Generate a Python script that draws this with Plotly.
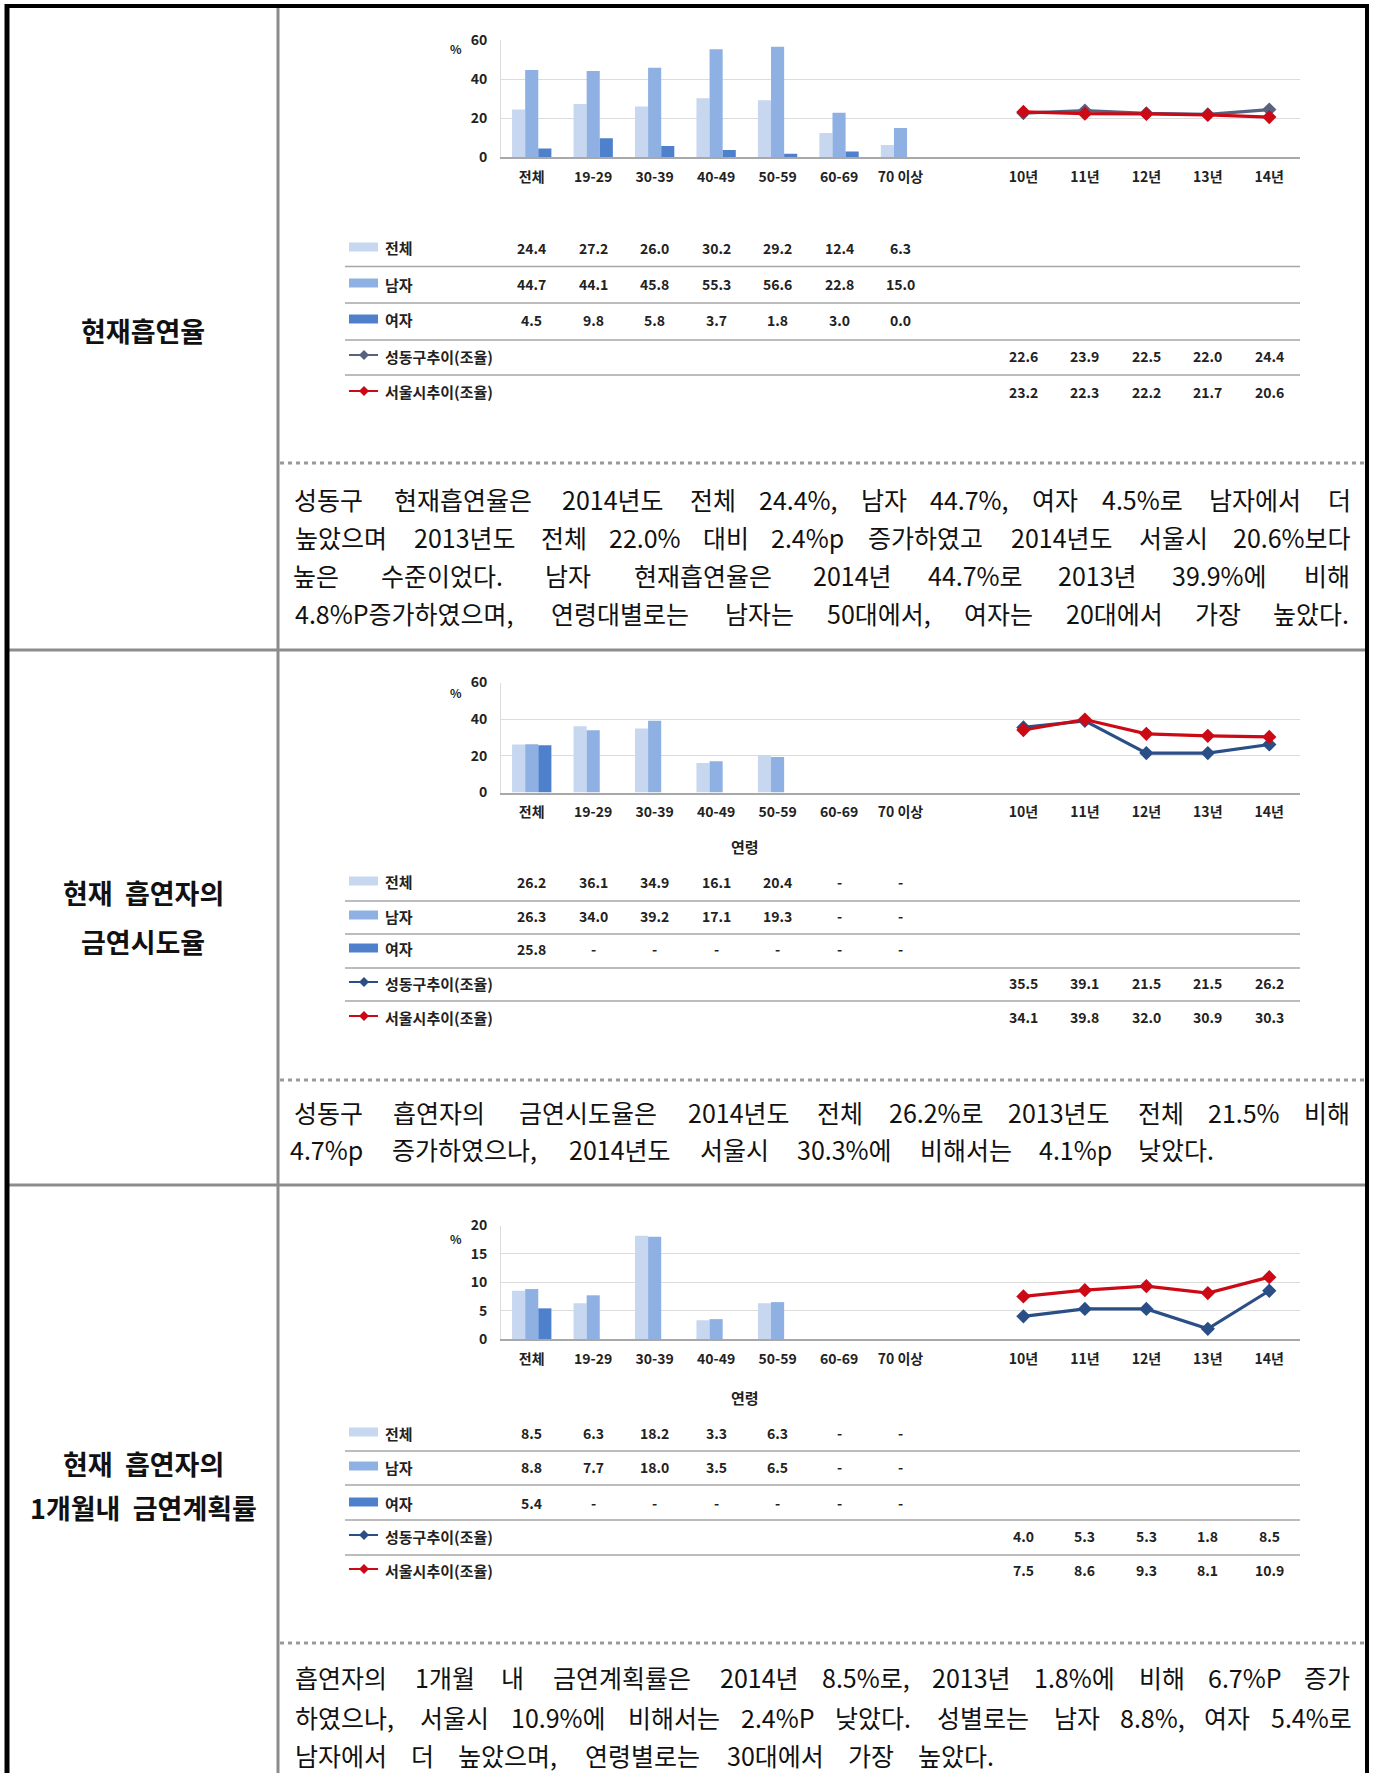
import plotly.graph_objects as go

W, H = 1374, 1773

# ---------------- data ----------------
age_labels = ["전체", "19-29", "30-39", "40-49", "50-59", "60-69", "70 이상"]
year_labels = ["10년", "11년", "12년", "13년", "14년"]
series_names = ["전체", "남자", "여자", "성동구추이(조율)", "서울시추이(조율)"]

p1_total = [24.4, 27.2, 26.0, 30.2, 29.2, 12.4, 6.3]
p1_male = [44.7, 44.1, 45.8, 55.3, 56.6, 22.8, 15.0]
p1_female = [4.5, 9.8, 5.8, 3.7, 1.8, 3.0, 0.0]
p1_sd = [22.6, 23.9, 22.5, 22.0, 24.4]
p1_seoul = [23.2, 22.3, 22.2, 21.7, 20.6]

p2_total = [26.2, 36.1, 34.9, 16.1, 20.4, None, None]
p2_male = [26.3, 34.0, 39.2, 17.1, 19.3, None, None]
p2_female = [25.8, None, None, None, None, None, None]
p2_sd = [35.5, 39.1, 21.5, 21.5, 26.2]
p2_seoul = [34.1, 39.8, 32.0, 30.9, 30.3]

p3_total = [8.5, 6.3, 18.2, 3.3, 6.3, None, None]
p3_male = [8.8, 7.7, 18.0, 3.5, 6.5, None, None]
p3_female = [5.4, None, None, None, None, None, None]
p3_sd = [4.0, 5.3, 5.3, 1.8, 8.5]
p3_seoul = [7.5, 8.6, 9.3, 8.1, 10.9]

titles = [["현재흡연율"], ["현재\u00a0\u00a0흡연자의", "금연시도율"], ["현재\u00a0\u00a0흡연자의", "1개월내\u00a0\u00a0금연계획률"]]

para1 = [
    "성동구 현재흡연율은 2014년도 전체 24.4%, 남자 44.7%, 여자 4.5%로 남자에서 더",
    "높았으며 2013년도 전체 22.0% 대비 2.4%p 증가하였고 2014년도 서울시 20.6%보다",
    "높은 수준이었다. 남자 현재흡연율은 2014년 44.7%로 2013년 39.9%에 비해",
    "4.8%P증가하였으며, 연령대별로는 남자는 50대에서, 여자는 20대에서 가장 높았다.",
]
para2 = [
    "성동구 흡연자의 금연시도율은 2014년도 전체 26.2%로 2013년도 전체 21.5% 비해",
    "4.7%p 증가하였으나, 2014년도 서울시 30.3%에 비해서는 4.1%p 낮았다.",
]
para3 = [
    "흡연자의 1개월 내 금연계획률은 2014년 8.5%로, 2013년 1.8%에 비해 6.7%P 증가",
    "하였으나, 서울시 10.9%에 비해서는 2.4%P 낮았다. 성별로는 남자 8.8%, 여자 5.4%로",
    "남자에서 더 높았으며, 연령별로는 30대에서 가장 높았다.",
]

# ---------------- layout helpers ----------------
FONT = "Noto Sans CJK KR"
BAR_COLORS = ["#c6d7ef", "#8eb0e2", "#4f80cc"]
SEOUL_COLOR = "#cc0a16"


def X(px):
    return px / W


def Y(py):
    return 1 - py / H


age_x = list(range(len(age_labels)))
year_x = [len(age_labels) + 1 + i for i in range(len(year_labels))]

# para_end: right edge (px) each text line reaches
panels = [
    dict(data=(p1_total, p1_male, p1_female, p1_sd, p1_seoul), top=40, bottom=157.3, ymax=60, dtick=20,
         rows=[248, 284, 320, 356, 392], seps=[266.5, 303, 340, 375], pct_y=49, axis_title_y=None,
         sd_color="#56627e", title_y=[330], para=para1, para_y=[499, 537, 575, 613],
         para_end=[1352, 1352, 1352, 1352]),
    dict(data=(p2_total, p2_male, p2_female, p2_sd, p2_seoul), top=682.5, bottom=792.5, ymax=60, dtick=20,
         rows=[882, 916, 949, 983, 1017], seps=[901, 934, 968, 1001], pct_y=693, axis_title_y=847,
         sd_color="#2a4f86", title_y=[892, 942], para=para2, para_y=[1112, 1149], para_end=[1352, 1217]),
    dict(data=(p3_total, p3_male, p3_female, p3_sd, p3_seoul), top=1225.5, bottom=1339, ymax=20, dtick=5,
         rows=[1433, 1467, 1503, 1536, 1570], seps=[1451, 1485, 1520, 1555], pct_y=1238, axis_title_y=1397,
         sd_color="#2a4f86", title_y=[1463, 1507], para=para3, para_y=[1677, 1717, 1755],
         para_end=[1352, 1352, 997]),
]

PLOT_L, PLOT_R = 501, 1300
TABLE_L = 345

fig = go.Figure()
annotations = []
shapes = []


def em(ch):
    if "\uac00" <= ch <= "\ud7a3":
        return 1.0
    if ch.isdigit():
        return 0.555
    if ch in ".,":
        return 0.27
    if ch == "%":
        return 0.84
    if ch in "pP":
        return 0.58
    if ch in "()":
        return 0.33
    if ch == " ":
        return 0.22
    return 0.55


def text_line(line, py, x1, x0=291, F=25):
    words = line.split()
    widths = [sum(em(c) for c in w) * F for w in words]
    gap = (x1 - x0 - sum(widths)) / (len(words) - 1)
    x = x0
    for w, wd in zip(words, widths):
        annotations.append(dict(x=X(x + wd / 2), y=Y(py), xref="paper", yref="paper", text=w, showarrow=False,
                                xanchor="center", yanchor="middle", font=dict(family=FONT, size=F, color="#111")))
        x += wd + gap


for n, p in enumerate(panels, start=1):
    sfx = "" if n == 1 else str(n)
    xa, ya = "x" + sfx, "y" + sfx
    total, male, female, sd, seoul = p["data"]
    for vals, name, col in zip((total, male, female), series_names[:3], BAR_COLORS):
        fig.add_trace(go.Bar(x=age_x, y=vals, name=name, marker=dict(color=col, line=dict(width=0)),
                             xaxis=xa, yaxis=ya, showlegend=False))
    for vals, name, col in ((sd, series_names[3], p["sd_color"]), (seoul, series_names[4], SEOUL_COLOR)):
        fig.add_trace(go.Scatter(x=year_x, y=vals, name=name, mode="lines+markers",
                                 line=dict(color=col, width=3.2),
                                 marker=dict(symbol="diamond", size=11, color=col),
                                 xaxis=xa, yaxis=ya, showlegend=False))

    fig.update_layout(**{
        "xaxis" + sfx: dict(domain=[X(PLOT_L), X(PLOT_R)], anchor=ya, range=[-0.5, len(age_x) + len(year_x) + 0.5],
                            tickmode="array", tickvals=age_x + year_x, ticktext=age_labels + year_labels,
                            showgrid=False, zeroline=False, showline=True, linecolor="#a8a8a8", linewidth=2,
                            ticks="", ticklabelstandoff=6, automargin=False,
                            tickfont=dict(family=FONT, size=14, color="#222", weight="bold"), fixedrange=True),
        "yaxis" + sfx: dict(domain=[Y(p["bottom"]), Y(p["top"])], anchor=xa, range=[0, p["ymax"]],
                            tickmode="linear", tick0=0, dtick=p["dtick"], showgrid=True, gridcolor="#dcdcdc",
                            gridwidth=1, zeroline=False, showline=True, linecolor="#dcdcdc", linewidth=1,
                            ticks="", ticklabelstandoff=10, automargin=False,
                            tickfont=dict(family=FONT, size=14, color="#222", weight="bold"), fixedrange=True),
    })

    # % label
    annotations.append(dict(x=X(456), y=Y(p["pct_y"]), xref="paper", yref="paper", text="%", showarrow=False,
                            xanchor="center", yanchor="middle",
                            font=dict(family=FONT, size=12, color="#222", weight="bold")))
    if p["axis_title_y"]:
        annotations.append(dict(x=X(745), y=Y(p["axis_title_y"]), xref="paper", yref="paper", text="연령",
                                showarrow=False, xanchor="center", yanchor="middle",
                                font=dict(family=FONT, size=15, color="#222", weight="bold")))

    # data table
    rows = p["rows"]
    row_data = [(total, age_x), (male, age_x), (female, age_x), (sd, year_x), (seoul, year_x)]
    for r, (name, (vals, xs)) in enumerate(zip(series_names, row_data)):
        ry = rows[r]
        annotations.append(dict(x=X(383), y=Y(ry), xref="paper", yref="paper", text=name, showarrow=False,
                                xanchor="left", yanchor="middle",
                                font=dict(family=FONT, size=15, color="#222", weight="bold")))
        for xv, v in zip(xs, vals):
            annotations.append(dict(x=xv, y=Y(ry), xref=xa, yref="paper",
                                    text="-" if v is None else f"{v:.1f}", showarrow=False,
                                    xanchor="center", yanchor="middle",
                                    font=dict(family=FONT, size=14, color="#222", weight="bold")))
        if r < 3:
            shapes.append(dict(type="rect", xref="paper", yref="paper", x0=X(349), x1=X(378),
                               y0=Y(ry - 5.5), y1=Y(ry + 3.5), fillcolor=BAR_COLORS[r], line=dict(width=0)))
        else:
            col = p["sd_color"] if r == 3 else SEOUL_COLOR
            shapes.append(dict(type="line", xref="paper", yref="paper", x0=X(349), x1=X(378),
                               y0=Y(ry - 1), y1=Y(ry - 1), line=dict(color=col, width=2)))
            cx, cy, d = 364, ry - 1, 5
            path = (f"M {X(cx)},{Y(cy - d)} L {X(cx + d)},{Y(cy)} L {X(cx)},{Y(cy + d)} "
                    f"L {X(cx - d)},{Y(cy)} Z")
            shapes.append(dict(type="path", xref="paper", yref="paper", path=path, fillcolor=col,
                               line=dict(color=col, width=0)))
    for sy in p["seps"]:
        shapes.append(dict(type="line", xref="paper", yref="paper", x0=X(TABLE_L), x1=X(PLOT_R),
                           y0=Y(sy), y1=Y(sy), line=dict(color="#a6a6a6", width=1.5)))

    # row titles (left column)
    for t, ty in zip(titles[n - 1], p["title_y"]):
        annotations.append(dict(x=X(143), y=Y(ty), xref="paper", yref="paper", text=t, showarrow=False,
                                xanchor="center", yanchor="middle",
                                font=dict(family=FONT, size=27, color="#111", weight="bold")))

    # description paragraph
    for line, ly, xe in zip(p["para"], p["para_y"], p["para_end"]):
        text_line(line, ly, xe)

# ---------------- frame of the table ----------------
frame = "#8c8c8c"
shapes += [
    dict(type="line", xref="paper", yref="paper", x0=X(278), x1=X(278), y0=Y(7), y1=Y(H), line=dict(color=frame, width=3)),
    dict(type="line", xref="paper", yref="paper", x0=X(6), x1=X(1367), y0=Y(650), y1=Y(650), line=dict(color=frame, width=3)),
    dict(type="line", xref="paper", yref="paper", x0=X(6), x1=X(1367), y0=Y(1185), y1=Y(1185), line=dict(color=frame, width=3)),
]
for dy in (463, 1080, 1643):
    shapes.append(dict(type="line", xref="paper", yref="paper", x0=X(280), x1=X(1366), y0=Y(dy), y1=Y(dy),
                       line=dict(color="#9a9a9a", width=3, dash="4px,4px")))
shapes += [
    dict(type="line", xref="paper", yref="paper", x0=X(7), x1=X(7), y0=Y(4), y1=Y(H), line=dict(color="#000", width=5)),
    dict(type="line", xref="paper", yref="paper", x0=X(5), x1=X(1369), y0=Y(6), y1=Y(6), line=dict(color="#000", width=4)),
    dict(type="line", xref="paper", yref="paper", x0=X(1367), x1=X(1367), y0=Y(4), y1=Y(H), line=dict(color="#000", width=4)),
]

fig.update_layout(
    width=W, height=H, margin=dict(l=0, r=0, t=0, b=0, pad=0, autoexpand=False),
    paper_bgcolor="white", plot_bgcolor="rgba(0,0,0,0)",
    barmode="group", bargap=0.36, bargroupgap=0,
    showlegend=False, annotations=annotations, shapes=shapes,
    font=dict(family=FONT),
)

post = ("document.documentElement.style.margin='0';document.documentElement.style.padding='0';"
        "document.documentElement.style.overflow='hidden';"
        "document.body.style.margin='0';document.body.style.padding='0';"
        "var gd=document.getElementById('{plot_id}');"
        "gd.parentElement.style.fontSize='0';gd.parentElement.style.lineHeight='0';"
        "gd.parentElement.style.margin='0';gd.parentElement.style.padding='0';")

fig.write_html("out.html", post_script=post, config={"displayModeBar": False})
